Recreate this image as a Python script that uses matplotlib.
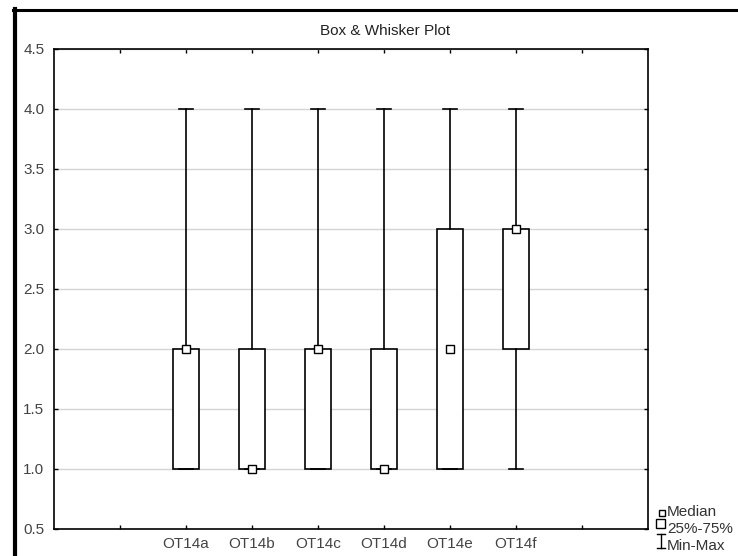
import matplotlib
matplotlib.use("Agg")
import matplotlib.pyplot as plt
from matplotlib.lines import Line2D
from matplotlib.patches import Rectangle

plt.rcParams['font.family'] = ['Liberation Sans', 'DejaVu Sans']

categories = ["OT14a", "OT14b", "OT14c", "OT14d", "OT14e", "OT14f"]
mins    = [1.0, 1.0, 1.0, 1.0, 1.0, 1.0]
q1s     = [1.0, 1.0, 1.0, 1.0, 1.0, 2.0]
medians = [2.0, 1.0, 2.0, 1.0, 2.0, 3.0]
q3s     = [2.0, 2.0, 2.0, 2.0, 3.0, 3.0]
maxs    = [4.0, 4.0, 4.0, 4.0, 4.0, 4.0]
positions = [2, 3, 4, 5, 6, 7]
y_ticks = [0.5, 1.0, 1.5, 2.0, 2.5, 3.0, 3.5, 4.0, 4.5]

W, H = 738, 556
fig = plt.figure(figsize=(W / 100, H / 100), dpi=100)

def fx(x):
    return x / W

def fy(y):
    return 1 - y / H

ax = fig.add_axes([fx(54), fy(529), (648 - 54) / W, (529 - 49) / H])

stats = []
for lab, lo, a, m, b, hi in zip(categories, mins, q1s, medians, q3s, maxs):
    stats.append(dict(label=lab, whislo=lo, q1=a, med=m, q3=b, whishi=hi, fliers=[]))

ax.bxp(stats, positions=positions, widths=0.4, capwidths=0.21,
       showfliers=False, patch_artist=True,
       boxprops=dict(facecolor='white', edgecolor='black', linewidth=1.2),
       whiskerprops=dict(color='black', linewidth=1.2),
       capprops=dict(color='black', linewidth=1.2),
       medianprops=dict(linewidth=0, color='none'),
       zorder=3)
ax.plot(positions, medians, linestyle='none', marker='s', markersize=5.5,
        markerfacecolor='white', markeredgecolor='black', markeredgewidth=1.0,
        zorder=5)

ax.set_xlim(0, 9)
ax.set_ylim(0.5, 4.5)
ax.set_xticks([1, 2, 3, 4, 5, 6, 7, 8])
ax.set_xticklabels([""] + categories + [""])
ax.set_yticks(y_ticks)
ax.set_yticklabels([f"{v:.1f}" for v in y_ticks])
ax.tick_params(axis='both', direction='in', length=3, width=1, labelsize=11,
               labelcolor='#444444', top=True, right=True)
ax.tick_params(axis='y', pad=7)
ax.tick_params(axis='x', pad=6)
ax.yaxis.grid(True, color='#d4d4d4', linewidth=1.0, zorder=0)
ax.set_axisbelow(True)
for s in ax.spines.values():
    s.set_linewidth(1.2)
    s.set_color('black')

# title
fig.text(fx(385), fy(31), "Box & Whisker Plot", ha='center', va='center',
         fontsize=11, color='#222222')

# outer frame (clipped by figure edge)
fig.add_artist(Line2D([fx(13), fx(740)], [fy(10), fy(10)], color='black',
                      linewidth=2.2, transform=fig.transFigure))
fig.add_artist(Line2D([fx(15), fx(15)], [fy(9), fy(560)], color='black',
                      linewidth=3.0, transform=fig.transFigure))

# legend
fig.add_artist(Line2D([fx(662)], [fy(513)], marker='s', markersize=5,
                      markerfacecolor='white', markeredgecolor='black',
                      markeredgewidth=1.0, linestyle='none',
                      transform=fig.transFigure))
fig.add_artist(Rectangle((fx(656), fy(528)), 9 / W, 9 / H, facecolor='white',
                         edgecolor='black', linewidth=1.0,
                         transform=fig.transFigure))
fig.add_artist(Line2D([fx(661), fx(661)], [fy(534), fy(548)], color='black',
                      linewidth=1.0, transform=fig.transFigure))
fig.add_artist(Line2D([fx(657), fx(665)], [fy(534), fy(534)], color='black',
                      linewidth=1.0, transform=fig.transFigure))
fig.add_artist(Line2D([fx(657), fx(665)], [fy(548), fy(548)], color='black',
                      linewidth=1.0, transform=fig.transFigure))
for txt, y in [("Median", 512), ("25%-75%", 529), ("Min-Max", 546)]:
    fig.text(fx(667), fy(y), txt, ha='left', va='center', fontsize=11,
             color='#333333')

fig.savefig("out.png", dpi=100)
